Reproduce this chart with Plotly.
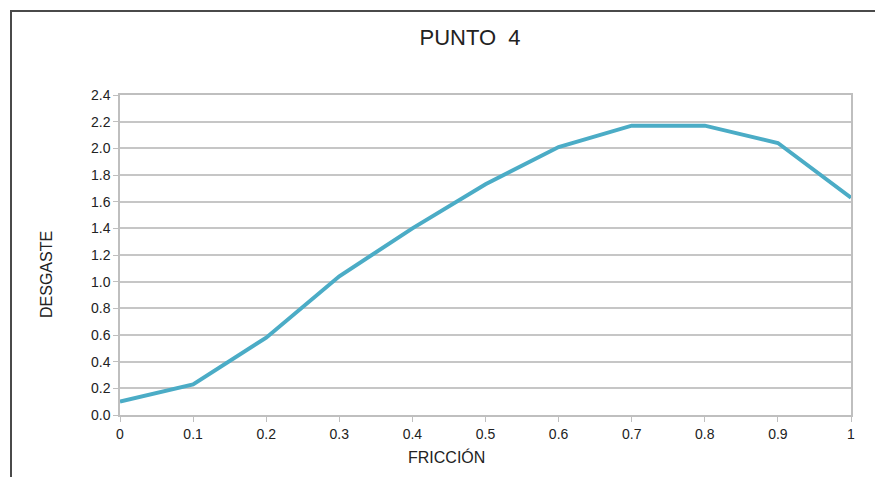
import plotly.graph_objects as go

# Friction values and measured wear
friccion = [0, 0.1, 0.2, 0.3, 0.4, 0.5, 0.6, 0.7, 0.8, 0.9, 1.0]
desgaste = [0.10, 0.23, 0.58, 1.04, 1.40, 1.73, 2.01, 2.17, 2.17, 2.04, 1.63]

x_ticks = [0, 0.1, 0.2, 0.3, 0.4, 0.5, 0.6, 0.7, 0.8, 0.9, 1.0]
x_ticklabels = ["0", "0.1", "0.2", "0.3", "0.4", "0.5", "0.6", "0.7", "0.8", "0.9", "1"]
y_ticks = [0, 0.2, 0.4, 0.6, 0.8, 1.0, 1.2, 1.4, 1.6, 1.8, 2.0, 2.2, 2.4]

W, H = 875, 477
L, R, T, B = 120, 24, 95, 62
pw, ph = W - L - R, H - T - B

def px_to_paper_x(px):
    return (px - L) / pw

def px_to_paper_y(py):
    return (H - B - py) / ph

font_family = "Liberation Sans, Arial, sans-serif"
text_color = "#222222"

fig = go.Figure()
fig.add_trace(go.Scatter(
    x=friccion, y=desgaste, mode="lines",
    line=dict(color="#4bacc6", width=4),
    showlegend=False, hoverinfo="x+y",
))

fig.update_layout(
    width=W, height=H,
    margin=dict(l=L, r=R, t=T, b=B),
    paper_bgcolor="white", plot_bgcolor="white",
    font=dict(family=font_family, color=text_color, size=14),
    title=dict(text="PUNTO\u00a0\u00a04", x=px_to_paper_x(470), xref="paper",
               xanchor="center", y=1 - 37 / H, yanchor="middle",
               font=dict(size=22, color=text_color)),
    shapes=[dict(type="rect", xref="paper", yref="paper",
                 x0=px_to_paper_x(11), x1=px_to_paper_x(900),
                 y0=px_to_paper_y(500), y1=px_to_paper_y(11),
                 line=dict(color="#4a4a4a", width=2), layer="below")],
    annotations=[
        dict(text="FRICCIÓN", xref="paper", yref="paper",
             x=px_to_paper_x(446), y=px_to_paper_y(457),
             xanchor="center", yanchor="middle", showarrow=False,
             font=dict(size=16, color=text_color)),
        dict(text="DESGASTE", xref="paper", yref="paper",
             x=px_to_paper_x(46), y=px_to_paper_y(275),
             xanchor="center", yanchor="middle", showarrow=False,
             textangle=-90, font=dict(size=16, color=text_color)),
    ],
)

fig.update_xaxes(
    range=[0, 1], tickvals=x_ticks, ticktext=x_ticklabels,
    showgrid=False, zeroline=False,
    showline=True, linecolor="#bfbfbf", linewidth=1.5, mirror=True,
    ticks="outside", ticklen=5, tickcolor="#bfbfbf",
    tickfont=dict(size=14),
)
fig.update_yaxes(
    range=[0, 2.4], tickvals=y_ticks, tickformat=".1f",
    showgrid=True, gridcolor="#c6c6c6", gridwidth=1.5, zeroline=False,
    showline=True, linecolor="#bfbfbf", linewidth=1.5, mirror=True,
    ticks="outside", ticklen=5, tickcolor="#bfbfbf",
    tickfont=dict(size=14),
)

fig.write_html("out.html")
